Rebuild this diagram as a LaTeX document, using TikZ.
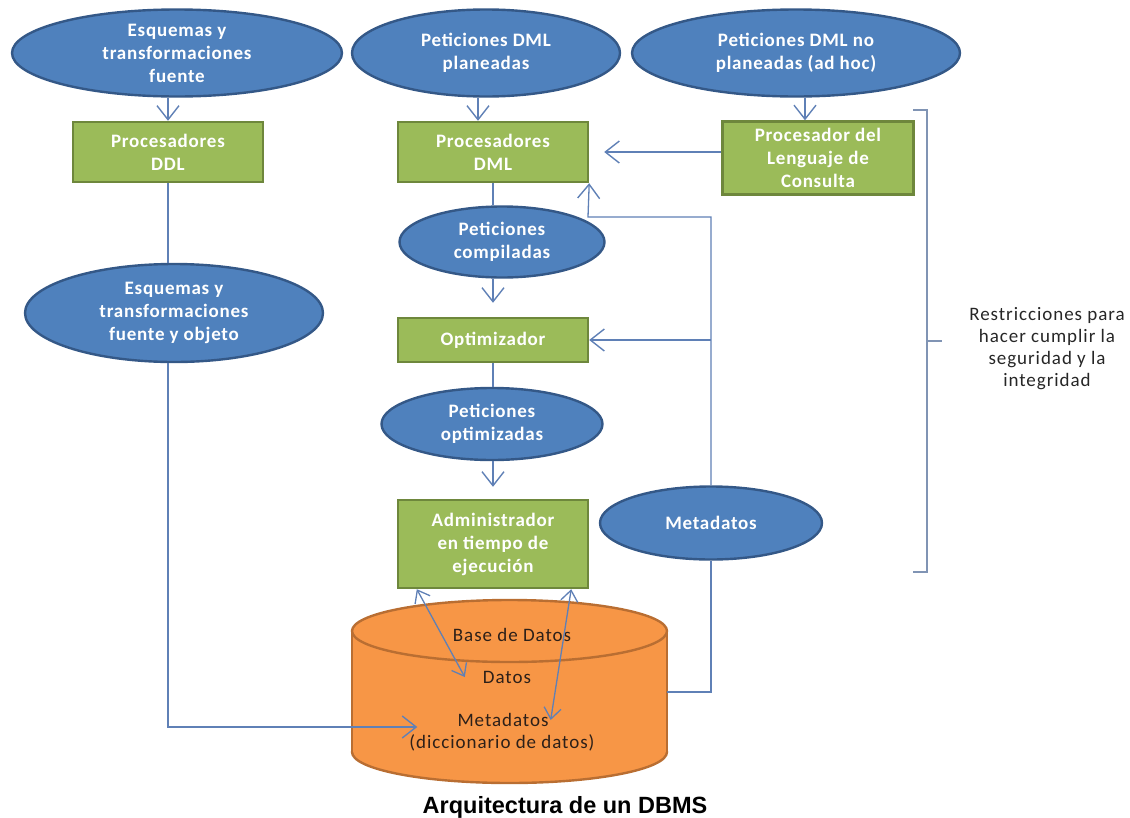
\documentclass[tikz,border=0pt]{standalone}
\usepackage{fontspec}
\setmainfont{Carlito}
\newfontfamily\titulofont{Liberation Sans}
\usetikzlibrary{arrows.meta,shapes.geometric}

\definecolor{azul}{RGB}{79,129,189}
\definecolor{azulborde}{RGB}{52,88,135}
\definecolor{verde}{RGB}{155,187,89}
\definecolor{verdeborde}{RGB}{110,135,60}
\definecolor{naranja}{RGB}{247,150,70}
\definecolor{naranjaborde}{RGB}{185,110,50}
\definecolor{linea}{RGB}{95,128,182}
\definecolor{gris}{RGB}{128,148,180}
\definecolor{texto}{RGB}{45,32,25}

\newcommand{\blanca}{\fontsize{19}{23}\selectfont\bfseries\addfontfeature{LetterSpace=4}}
\newcommand{\normal}{\fontsize{19}{22}\selectfont\addfontfeature{LetterSpace=5}}

\begin{document}
\begin{tikzpicture}[x=1pt,y=-1pt,
    peticion/.style={ellipse,draw=azulborde,line width=2.4pt,fill=azul,text=white,
      align=center,inner xsep=0pt,inner ysep=-8pt,font=\blanca},
    proceso/.style={rectangle,draw=verdeborde,line width=2.4pt,fill=verde,text=white,
      align=center,inner sep=0pt,minimum width=190pt,font=\blanca},
    dato/.style={text=texto,inner sep=2pt,font=\normal},
    conn/.style={draw=linea,line width=1.3pt},
    flecha/.style={conn,-{Straight Barb[length=14pt,width=22pt,line width=1.4pt]}},
    doble/.style={conn,{Straight Barb[length=11pt,width=17pt,line width=1.3pt]}-{Straight Barb[length=11pt,width=17pt,line width=1.3pt]}},
    llave/.style={draw=gris,line width=1.3pt}]

  \useasboundingbox (0,0) rectangle (1130,817);

  \fill[naranja] (509.5,752) ellipse [x radius=157.5pt, y radius=31pt];
  \draw[naranjaborde,line width=2.4pt] (509.5,752) ellipse [x radius=157.5pt, y radius=31pt];
  \fill[naranja] (352,631) rectangle (667,752);
  \draw[naranjaborde,line width=2.4pt] (352,631) -- (352,752) (667,631) -- (667,752);
  \filldraw[fill=naranja,draw=naranjaborde,line width=2.4pt] (509.5,631) ellipse [x radius=157.5pt, y radius=31pt];
  \coordinate (BDder) at (667,692);

  \node[dato] (BD) at (512,635) {Base de Datos};
  \node[dato] (DAT) at (507,677) {Datos};
  \node[dato] (MET) at (503,720) {Metadatos};
  \node[dato] (DIC) at (502,743) {(diccionario de datos)};

  \node[peticion,minimum width=330pt,minimum height=87pt] (EF) at (177,53) {Esquemas y\\transformaciones\\fuente};
  \node[proceso,minimum height=60pt] (DDL) at (168,152) {Procesadores\\DDL};
  \node[peticion,minimum width=268pt,minimum height=87pt] (PP) at (486,53) {Peticiones DML\\planeadas};
  \node[proceso,minimum height=60pt] (DML) at (493,152) {Procesadores\\DML};
  \node[peticion,minimum width=328pt,minimum height=87pt] (PNP) at (796,53) {Peticiones DML no\\planeadas (ad hoc)};
  \node[proceso,minimum width=191pt,minimum height=73pt] (PLC) at (818,158) {Procesador del\\Lenguaje de\\Consulta};
  \node[peticion,minimum width=298pt,minimum height=98pt] (EO) at (174,313) {Esquemas y\\transformaciones\\fuente y objeto};
  \node[peticion,minimum width=205pt,minimum height=71pt] (PC) at (502,242) {Peticiones\\compiladas};
  \node[proceso,minimum height=44pt] (OPT) at (493,340) {Optimizador};
  \node[peticion,minimum width=221pt,minimum height=72pt] (PO) at (492,424) {Peticiones\\optimizadas};
  \node[proceso,minimum height=88pt] (ADM) at (493,544) {Administrador\\en tiempo de\\ejecución};
  \node[peticion,minimum width=222pt,minimum height=73pt] (MD) at (711,523) {Metadatos};

  \draw[flecha] (EF.south -| DDL.north) -- (DDL.north);
  \draw[conn] (DDL.south) -- (DDL.south |- EO.north);
  \draw[flecha,shorten >=38pt] (DDL.south |- EO.south) |- ([yshift=-7pt]MET.west);
  \draw[flecha] ([xshift=-15pt]DML.north |- PP.south) -- ([xshift=-15pt]DML.north);
  \draw[flecha] ([xshift=-13pt]PLC.north |- PNP.south) -- ([xshift=-13pt]PLC.north);
  \draw[flecha,shorten >=15pt] (PLC.west |- DML.east) -- (DML.east);
  \draw[conn] (DML.south) -- (DML.south |- PC.north);
  \draw[flecha,shorten >=14pt] (DML.south |- PC.south) -- (OPT.north);
  \draw[conn] (OPT.south) -- (OPT.south |- PO.north);
  \draw[flecha,shorten >=12pt] (PO.south -| ADM.north) -- (ADM.north);

  \coordinate (retro) at (588,217);
  \draw[conn] (BDder) -| (MD.south);
  \draw[flecha] (MD.north) |- (retro) -- (DML.south east);
  \draw[flecha] (MD.north |- OPT.east) -- (OPT.east);
  \draw[doble] ([xshift=20pt]ADM.south west) -- ([xshift=-16pt]DAT.west);
  \draw[doble] ([xshift=-18pt]ADM.south east) -- (MET.east);

  \draw[llave] (913,110) -- (927,110) -- (927,572) -- (913,572);
  \draw[llave] (927,341) -- (942,341);
  \node[dato,text=black!85,align=center] (RS) at (1047,349) {Restricciones para\\hacer cumplir la\\seguridad y la\\integridad};

  \node[anchor=base,font=\titulofont\bfseries\fontsize{23.5}{28}\selectfont] (TIT) at (565,813) {Arquitectura de un DBMS};

\end{tikzpicture}
\end{document}
